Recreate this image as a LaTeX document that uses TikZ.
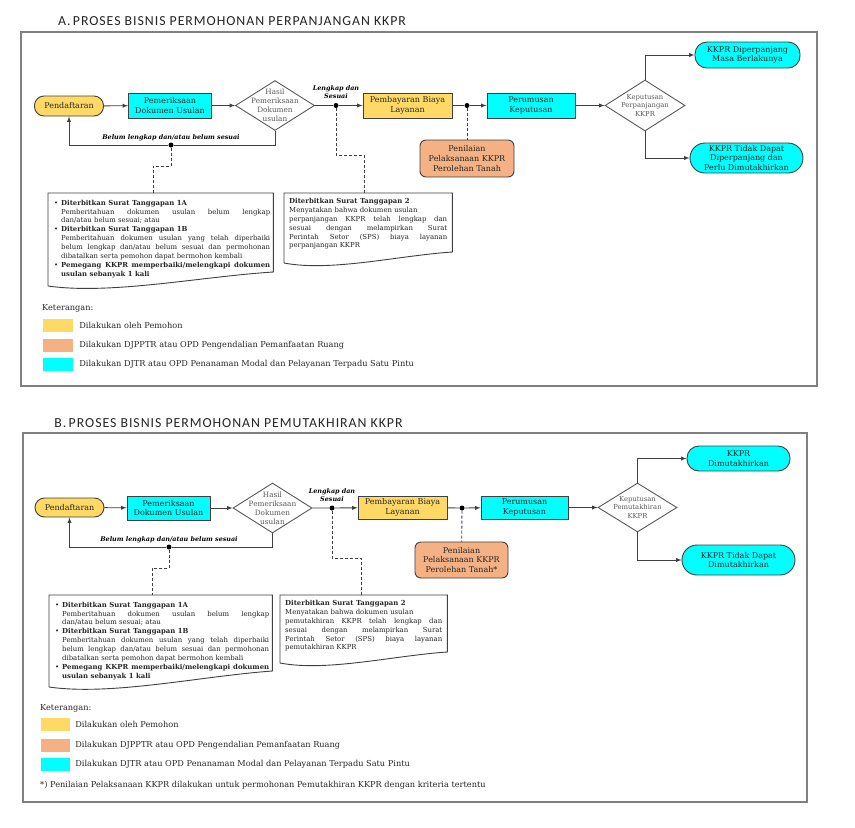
\documentclass[tikz,border=0pt]{standalone}
\usepackage{fontspec}
\setmainfont{DejaVu Serif}
\newfontfamily\titlefont{Carlito}[LetterSpace=7]
\usepackage{enumitem}
\usetikzlibrary{shapes.geometric,positioning,calc}

\definecolor{kkyellow}{HTML}{FFD966}
\definecolor{kkorange}{HTML}{F4B183}
\definecolor{kkcyan}{HTML}{00FFFF}
\definecolor{txtgray}{HTML}{262626}
\definecolor{linegray}{HTML}{404040}
\definecolor{diagray}{HTML}{595959}
\definecolor{framegray}{HTML}{808080}

% document symbol round a note node: name, left height, right height
\newcommand\noteoutline[3]{%
  \path (#1.north west) ++(0,#2) coordinate (#1 sw) (#1.north east) ++(0,#3) coordinate (#1 se);
  \draw[notedraw] (#1 sw) -- (#1.north west) -- (#1.north east) -- (#1 se)
    .. controls ($(#1 sw)!0.68!(#1 se)$) and ($(#1 sw)!0.28!(#1 sw -| #1 se)+(0,9)$) .. (#1 sw);}

\tikzset{
  boxtext/.style={font=\fontsize{8}{9.8}\selectfont, text=txtgray, align=center, inner sep=1pt},
  startbox/.style={boxtext, rectangle, rounded corners=9.5pt, draw=linegray, line width=0.9pt, fill=kkyellow, minimum width=69pt, minimum height=20pt},
  procbox/.style={boxtext, rectangle, draw=linegray, line width=0.9pt, fill=kkcyan, minimum height=25pt},
  paybox/.style={boxtext, rectangle, draw=linegray, line width=0.9pt, fill=kkyellow, minimum height=25pt},
  assessbox/.style={boxtext, rectangle, rounded corners=6pt, draw=linegray, line width=0.9pt, fill=kkorange},
  endbox/.style={boxtext, rectangle, rounded corners=12pt, draw=linegray, line width=0.9pt, fill=kkcyan},
  decision/.style={diamond, draw=diagray, line width=0.9pt, fill=white, inner sep=0pt},
  diatext/.style={font=\fontsize{7.3}{8.9}\selectfont, text=diagray, align=center, inner sep=0pt},
  dot/.style={circle, fill=black, inner sep=0pt, minimum size=5pt},
  flow/.style={draw=linegray, line width=0.9pt, -latex},
  dashline/.style={draw=linegray, line width=0.9pt, dash pattern=on 3pt off 2pt},
  edgelabel/.style={font=\fontsize{6.4}{7.6}\selectfont\bfseries\itshape, text=black, align=center, inner sep=0pt},
  notebox/.style={font=\fontsize{6.9}{8.9}\selectfont, text=txtgray, align=justify, inner xsep=3pt, inner ysep=3pt},
  notedraw/.style={draw=linegray, line width=0.9pt},
  framebox/.style={draw=framegray, line width=1.2pt},
  titletext/.style={font=\titlefont\fontsize{13.8}{15}\selectfont, text=txtgray, inner sep=0pt},
  legtext/.style={font=\fontsize{8.2}{9.5}\selectfont, text=txtgray, inner sep=0pt},
  swatch/.style={rectangle, minimum width=30pt, minimum height=13pt, inner sep=0pt},
}

\setlist[itemize]{leftmargin=10pt, labelsep=3pt, itemsep=0pt, topsep=0pt, parsep=0pt, partopsep=0pt, label=\textbullet}

\begin{document}
\begin{tikzpicture}[x=1pt, y=-1pt]
\fill[white] (0,0) rectangle (855,828);
\useasboundingbox (0,0) rectangle (855,828);

%% A. perpanjangan
\node[titletext] at (232,21) (TA) {A.\,PROSES BISNIS PERMOHONAN PERPANJANGAN KKPR};
\draw[framebox] (21,32) rectangle (817,386);

\node[startbox] at (69,106) (PA) {Pendaftaran};
\node[procbox, minimum width=83pt] at (170,105.5) (PDA) {Pemeriksaan\\Dokumen Usulan};
\node[decision, minimum width=79pt, minimum height=50pt, label={[diatext]center:Hasil\\Pemeriksaan\\Dokumen\\usulan}] at (275,105.5) (HA) {};
\node[dot] at (336,105.5) (D1A) {};
\node[paybox, minimum width=89pt] at (407.5,105.5) (PBA) {Pembayaran Biaya\\Layanan};
\node[dot] at (467,105.5) (D2A) {};
\node[procbox, minimum width=88pt] at (531,105.5) (PKA) {Perumusan\\Keputusan};
\node[decision, minimum width=80pt, minimum height=51pt, label={[diatext, font=\fontsize{6.8}{8.3}\selectfont]center:Keputusan\\Perpanjangan\\KKPR}] at (645,105.5) (KPA) {};
\node[endbox, minimum width=105pt, minimum height=26pt] at (747.5,55) (KDA) {KKPR Diperpanjang\\Masa Berlakunya};
\node[endbox, minimum width=113pt, minimum height=30pt, rounded corners=15pt] at (746.5,158) (KTA) {KKPR Tidak Dapat\\Diperpanjang dan\\Perlu Dimutakhirkan};
\node[assessbox, minimum width=94pt, minimum height=37pt] at (467,158.5) (PNA) {Penilaian\\Pelaksanaan KKPR\\Perolehan Tanah};
\node[dot] at (171,145) (DFA) {};

\node[edgelabel, above=4pt of D1A] (LSA) {Lengkap dan\\Sesuai};
\node[edgelabel, above=1.5pt of DFA] (LBA) {Belum lengkap dan/atau belum sesuai};

\draw[flow] (PA) -- (PDA);
\draw[flow] (PDA) -- (HA);
\draw[flow] (HA) -- (D1A) -- (PBA);
\draw[flow] (PBA) -- (D2A) -- (PKA);
\draw[flow] (PKA) -- (KPA);
\draw[flow] (KPA.north) |- (KDA);
\draw[flow] (KPA.south) |- (KTA);
\draw[flow] (HA.south) |- (DFA) -| (PA.south);

\node[notebox, text width=219pt, anchor=north west] at (48,193) (NA1) {%
\begin{itemize}
\item \textbf{Diterbitkan Surat Tanggapan 1A}\newline Pemberitahuan dokumen usulan belum lengkap\linebreak dan/atau belum sesuai; atau
\item \textbf{Diterbitkan Surat Tanggapan 1B}\newline Pemberitahuan dokumen usulan yang telah diperbaiki\linebreak belum lengkap dan/atau belum sesuai dan permohonan\linebreak dibatalkan serta pemohon dapat bermohon kembali
\item \textbf{Pemegang KKPR memperbaiki/melengkapi dokumen\linebreak usulan sebanyak 1 kali}
\end{itemize}};
\noteoutline{NA1}{93}{79}
\node[notebox, text width=158pt, inner xsep=5pt, inner ysep=5pt, anchor=north west] at (284,193) (NA2) {\textbf{Diterbitkan Surat Tanggapan 2}\newline Menyatakan bahwa dokumen usulan\newline perpanjangan KKPR telah lengkap dan\linebreak sesuai dengan melampirkan Surat\linebreak Perintah Setor (SPS) biaya layanan\linebreak perpanjangan KKPR};
\noteoutline{NA2}{70}{59}

\draw[dashline] (DFA) -- ++(0,21) -| ([xshift=-7.5pt]NA1.north);
\draw[dashline] (D1A) -- ++(0,49.5) -| ([xshift=-4pt]NA2.north);
\draw[dashline] (D2A) -- (PNA);

\node[legtext, anchor=west] at (42,308) (KETA) {Keterangan:};
\node[swatch, fill=kkyellow] at (58,325.5) (LYA) {};
\node[legtext, right=6pt of LYA] (TYA) {Dilakukan oleh Pemohon};
\node[swatch, fill=kkorange] at (58,345) (LOA) {};
\node[legtext, right=6pt of LOA] (TOA) {Dilakukan DJPPTR atau OPD Pengendalian Pemanfaatan Ruang};
\node[swatch, fill=kkcyan] at (58,364.5) (LCA) {};
\node[legtext, right=6pt of LCA] (TCA) {Dilakukan DJTR atau OPD Penanaman Modal dan Pelayanan Terpadu Satu Pintu};

%% B. pemutakhiran
\node[titletext] at (228.5,423) (TB) {B.\,PROSES BISNIS PERMOHONAN PEMUTAKHIRAN KKPR};
\draw[framebox] (23,433) rectangle (807,802);

\node[startbox, minimum height=19pt] at (69.5,507.5) (PB) {Pendaftaran};
\node[procbox, minimum width=83pt, minimum height=24pt] at (168.5,508) (PDB) {Pemeriksaan\\Dokumen Usulan};
\node[decision, minimum width=79pt, minimum height=50pt, label={[diatext]center:Hasil\\Pemeriksaan\\Dokumen\\usulan}] at (272.5,508) (HB) {};
\node[dot] at (332,508) (D1B) {};
\node[paybox, minimum width=89pt, minimum height=23pt] at (402.5,507.5) (PBB) {Pembayaran Biaya\\Layanan};
\node[dot] at (462,508) (D2B) {};
\node[procbox, minimum width=87pt, minimum height=23pt] at (524.5,507.5) (PKB) {Perumusan\\Keputusan};
\node[decision, minimum width=79pt, minimum height=49pt, label={[diatext, font=\fontsize{6.8}{8.3}\selectfont]center:Keputusan\\Pemutakhiran\\KKPR}] at (637.5,507.5) (KPB) {};
\node[endbox, minimum width=103pt, minimum height=25pt] at (738.5,458.5) (KDB) {KKPR\\Dimutakhirkan};
\node[endbox, minimum width=113pt, minimum height=30pt, rounded corners=15pt] at (738.5,560) (KTB) {KKPR Tidak Dapat\\Dimutakhirkan};
\node[assessbox, minimum width=93pt, minimum height=36pt] at (461.5,560) (PNB) {Penilaian\\Pelaksanaan KKPR\\Perolehan Tanah*};
\node[dot] at (169,547) (DFB) {};

\node[edgelabel, above=4pt of D1B] (LSB) {Lengkap dan\\Sesuai};
\node[edgelabel, above=1.5pt of DFB] (LBB) {Belum lengkap dan/atau belum sesuai};

\draw[flow] (PB) -- (PDB);
\draw[flow] (PDB) -- (HB);
\draw[flow] (HB) -- (D1B) -- (PBB);
\draw[flow] (PBB) -- (D2B) -- (PKB);
\draw[flow] (PKB) -- (KPB);
\draw[flow] (KPB.north) |- (KDB);
\draw[flow] (KPB.south) |- (KTB);
\draw[flow] (HB.south) |- (DFB) -| (PB.south);

\node[notebox, text width=217pt, anchor=north west] at (49,595) (NB1) {%
\begin{itemize}
\item \textbf{Diterbitkan Surat Tanggapan 1A}\newline Pemberitahuan dokumen usulan belum lengkap\linebreak dan/atau belum sesuai; atau
\item \textbf{Diterbitkan Surat Tanggapan 1B}\newline Pemberitahuan dokumen usulan yang telah diperbaiki\linebreak belum lengkap dan/atau belum sesuai dan permohonan\linebreak dibatalkan serta pemohon dapat bermohon kembali
\item \textbf{Pemegang KKPR memperbaiki/melengkapi dokumen\linebreak usulan sebanyak 1 kali}
\end{itemize}};
\noteoutline{NB1}{92}{76}
\node[notebox, text width=157pt, inner xsep=5pt, inner ysep=5pt, anchor=north west] at (280,595) (NB2) {\textbf{Diterbitkan Surat Tanggapan 2}\newline Menyatakan bahwa dokumen usulan\newline pemutakhiran KKPR telah lengkap dan\linebreak sesuai dengan melampirkan Surat\linebreak Perintah Setor (SPS) biaya layanan\linebreak pemutakhiran KKPR};
\noteoutline{NB2}{68}{57}

\draw[dashline] (DFB) -- ++(0,21) -| ([xshift=-8pt]NB1.north);
\draw[dashline] (D1B) -- ++(0,50) -| ([xshift=-2.5pt]NB2.north);
\draw[dashline] (D2B) -- (PNB);

\node[legtext, anchor=west] at (40,708) (KETB) {Keterangan:};
\node[swatch, fill=kkyellow, minimum width=29pt] at (55.5,724.5) (LYB) {};
\node[legtext, right=5pt of LYB] (TYB) {Dilakukan oleh Pemohon};
\node[swatch, fill=kkorange, minimum width=29pt] at (55.5,745.5) (LOB) {};
\node[legtext, right=5pt of LOB] (TOB) {Dilakukan DJPPTR atau OPD Pengendalian Pemanfaatan Ruang};
\node[swatch, fill=kkcyan, minimum width=29pt] at (55.5,764.5) (LCB) {};
\node[legtext, right=5pt of LCB] (TCB) {Dilakukan DJTR atau OPD Penanaman Modal dan Pelayanan Terpadu Satu Pintu};
\node[legtext, anchor=west] at (40,785) (FNB) {*) Penilaian Pelaksanaan KKPR dilakukan untuk permohonan Pemutakhiran KKPR dengan kriteria tertentu};

\end{tikzpicture}
\end{document}
